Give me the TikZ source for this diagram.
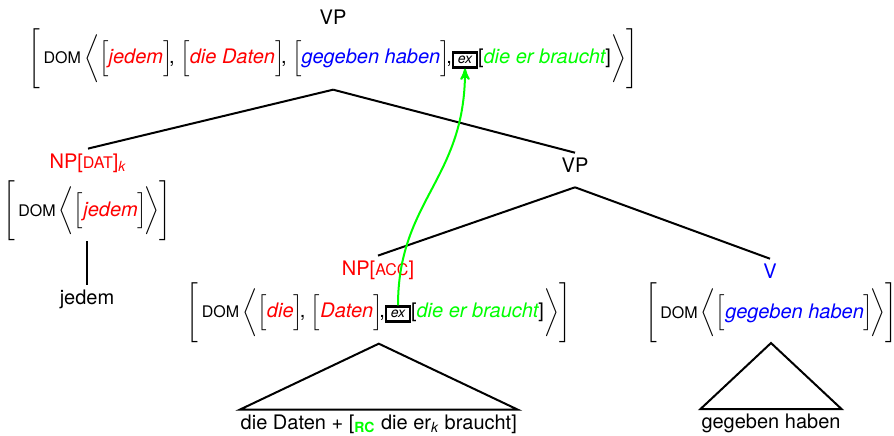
\documentclass[tikz,border=0pt]{standalone}
\usepackage{fontspec}
\setmainfont{TeX Gyre Heros}
\usepackage{xcolor}
\usetikzlibrary{positioning, arrows, fit}

\newcommand{\avmL}{$\Biggl[$}
\newcommand{\avmR}{$\Biggr]$}
\newcommand{\listL}{$\biggl\langle$}
\newcommand{\listR}{$\biggr\rangle$}
\newcommand{\elem}[2]{$\Bigl[$\textcolor{#1}{\itshape #2}$\Bigr]\!$}
\newcommand{\feat}[1]{{\footnotesize #1}}

\begin{document}
\begin{tikzpicture}[x=0.5pt,y=-0.5pt,line width=1pt,>=stealth']
    \tikzstyle{every node}=[inner sep=2pt]
    \tikzstyle{avm}=[inner sep=0pt,outer sep=0pt]
    \tikzstyle{exmark}=[draw,line width=1.1pt,inner xsep=2.4pt,inner ysep=1.8pt,font=\scriptsize\itshape]
    \tikzstyle{yield}=[inner xsep=0pt,inner ysep=2pt]

    \useasboundingbox (0,0) rectangle (894,435);

    \node (VP1) at (333,17) {VP};
    \node[exmark] (EX1) at (465,60) {ex};
    \node[avm,anchor=base east] (AVM1a) at (EX1.base west) {\avmL\,\feat{DOM}\,\listL\elem{red}{jedem}, \elem{red}{die Daten}, \elem{blue}{gegeben haben},\hspace{4.5pt}};
    \node[avm,anchor=base west] (AVM1b) at (EX1.base east) {[\textcolor{green}{\itshape die er braucht}]\listR\avmR};
    \node[fit=(AVM1a)(AVM1b),inner sep=0pt] (AVM1) {};

    \node (NP1) at (88,163) {\color{red}NP[\feat{DAT}]\textsubscript{\itshape k}};
    \node[avm] (AVM2) at (87,211) {\avmL\,\feat{DOM}\,\listL\elem{red}{jedem}\listR\avmR};
    \node (W1) [below=22pt of AVM2] {jedem};

    \node (VP2) at (575,165) {VP};
    \coordinate[below=5pt of VP2] (VP2f);

    \node (NP2) at (378,270) {\color{red}NP[\feat{ACC}]};
    \node[exmark] (EX2) at (398,314) {ex};
    \node[avm,anchor=base east] (AVM3a) at (EX2.base west) {\avmL\,\feat{DOM}\,\listL\elem{red}{die}, \elem{red}{Daten},\hspace{4.5pt}};
    \node[avm,anchor=base west] (AVM3b) at (EX2.base east) {[\textcolor{green}{\itshape die er braucht}]\listR\avmR};
    \node[fit=(AVM3a)(AVM3b),inner sep=0pt] (AVM3) {};
    \node[yield] (Y1) [below=33pt of AVM3] {die Daten + [\textsubscript{\textcolor{green}{\bfseries RC}} die er\textsubscript{\itshape k} braucht]};

    \node (V1) at (770,271) {\color{blue}V};
    \node[avm] (AVM4) at (771,313) {\avmL\,\feat{DOM}\,\listL\elem{blue}{gegeben haben}\listR\avmR};
    \node[yield] (Y2) [below=33pt of AVM4] {gegeben haben};

    \draw (AVM1.south) -- (NP1.north);
    \draw (AVM1.south) -- (VP2.north);
    \draw (AVM2) -- (W1);
    \draw (VP2f) -- (NP2.north);
    \draw (VP2f) -- (V1.north);
    \draw (AVM3.south) -- (Y1.north west) -- (Y1.north east) -- cycle;
    \draw (AVM4.south) -- (Y2.north west) -- (Y2.north east) -- cycle;

    \draw[->,green] (EX2.north) .. controls +(0,-105) and +(0,111) .. (EX1.south);
\end{tikzpicture}
\end{document}
